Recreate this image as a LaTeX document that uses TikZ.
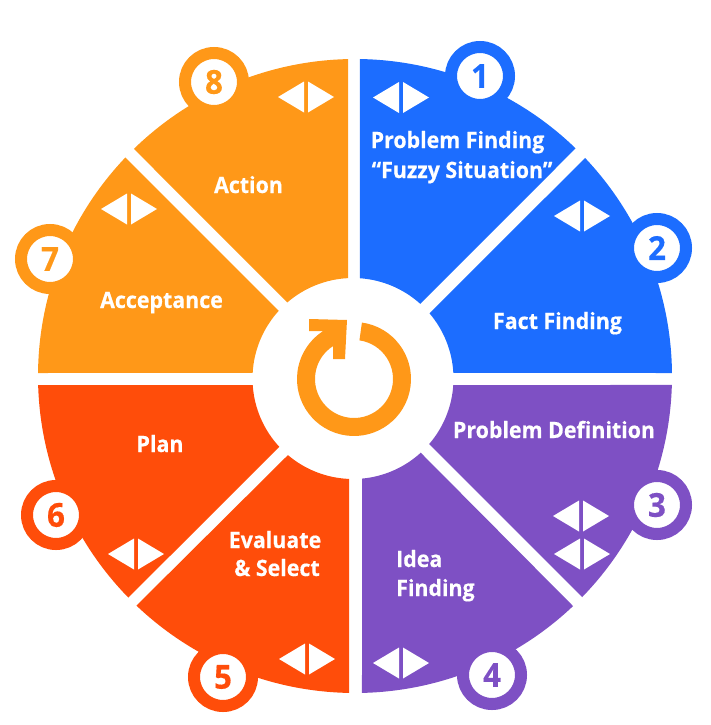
\documentclass[tikz,border=0pt]{standalone}
\usepackage{fontspec}
\usetikzlibrary{calc}
\setmainfont{Open Sans}[FakeStretch=0.95,BoldFeatures={FakeBold=0.4}]
\definecolor{cblue}{HTML}{1C6DFF}
\definecolor{cpurple}{HTML}{7E50C4}
\definecolor{cred}{HTML}{FF4D0A}
\definecolor{corange}{HTML}{FF9818}
\def\seg#1(#2,#3)(#4,#5)(#6,#7)(#8,#9){%
  \pgfmathsetmacro\aA{atan2(#3-376,#2-355)}%
  \pgfmathsetmacro\aB{atan2(#5-376,#4-355)}%
  \pgfmathsetmacro\aC{atan2(#7-378.5,#6-353)}%
  \pgfmathsetmacro\aD{atan2(#9-378.5,#8-353)}%
  \fill[#1] ($(355,376)+(\aA:317)$) arc[start angle=\aA,end angle=\aB,radius=317]
    -- ($(353,378.5)+(\aC:100.5)$) arc[start angle=\aC,end angle=\aD,radius=100.5] -- cycle;}
\def\tri(#1,#2){%
  \fill[white] (#1-2,#2-15.5) -- (#1-2,#2+15.5) -- (#1-28,#2) -- cycle;
  \fill[white] (#1+2,#2-15.5) -- (#1+2,#2+15.5) -- (#1+28,#2) -- cycle;}
\tikzset{
  badge/.style={circle,fill=white,line width=12pt,minimum size=58pt,inner sep=0pt,
    font=\fontsize{33}{33}\selectfont\bfseries},
  lab/.style={text=white,anchor=base,inner sep=0pt,font=\fontsize{22.5}{23}\selectfont\bfseries},
}
\begin{document}
\begin{tikzpicture}[x=1pt,y=-1pt]
\useasboundingbox (0,0) rectangle (711,725);
% segments: outer start, outer end, inner end, inner start
\seg{cblue}(360,59)(575,149)(421,303)(360,278)
\seg{cblue}(585,158)(672,373)(452,373)(430,313)
\seg{cpurple}(672,385)(582,597)(429,444)(453,385)
\seg{cpurple}(573,606)(362,693)(362,478)(421,453)
\seg{cred}(349,693)(137,605)(288,455)(349,479)
\seg{cred}(129,597)(39,385)(253,385)(279,447)
\seg{corange}(39,373)(126,158)(279,311)(253,373)
\seg{corange}(134,149)(348,59)(348,278)(287,302)
% badges
\node[badge,draw=cblue,text=cblue] (b1) at (480,76) {1};
\node[badge,draw=cblue,text=cblue] (b2) at (657,248) {2};
\node[badge,draw=cpurple,text=cpurple] (b3) at (657,505) {3};
\node[badge,draw=cpurple,text=cpurple] (b4) at (492,675) {4};
\node[badge,draw=cred,text=cred] (b5) at (223,677) {5};
\node[badge,draw=cred,text=cred] (b6) at (56,515) {6};
\node[badge,draw=corange,text=corange] (b7) at (50,259) {7};
\node[badge,draw=corange,text=corange] (b8) at (214,82) {8};
% triangle pairs
\tri(401,97.5)
\tri(582,216)
\tri(581,516)
\tri(582,554)
\tri(401,663)
\tri(307,659)
\tri(136,554)
\tri(129,209)
\tri(306,97)
% labels
\node[lab] (t1a) at (457.5,148) {Problem Finding};
\node[lab] (t1b) at (462,178) {“Fuzzy Situation”};
\node[lab] (t2) at (557.5,329) {Fact Finding};
\node[lab] (t3) at (554,438) {Problem Definition};
\node[lab,anchor=base west] (t4a) at (396,567) {Idea};
\node[lab,anchor=base west] (t4b) at (396,596) {Finding};
\node[lab] (t5a) at (275,548) {Evaluate};
\node[lab] (t5b) at (277,576) {\&\ Select};
\node[lab] (t6) at (160,452) {Plan};
\node[lab] (t7) at (161.5,308) {Acceptance};
\node[lab] (t8) at (248.5,193) {Action};
% centre arrow
\fill[corange] ($(354,379)+(-82:57)$) arc[start angle=-82,end angle=237,radius=57]
  -- (309,331) -- (309,319) -- (347,320) -- (345,359) -- (333,359) -- (333,346)
  -- ($(354,379)+(237.5:39)$) arc[start angle=237.5,end angle=-82,radius=39] -- cycle;
\end{tikzpicture}
\end{document}
